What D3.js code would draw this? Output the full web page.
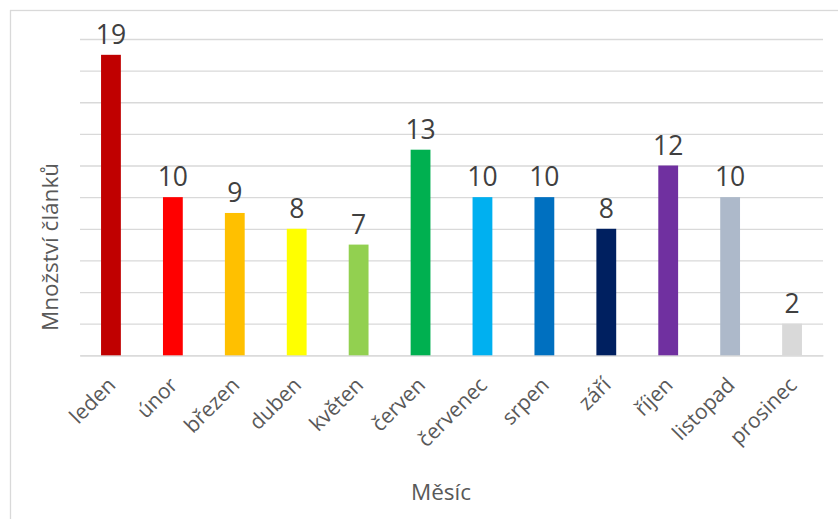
<!DOCTYPE html>
<html>
<head>
<meta charset="utf-8">
<script src="https://cdn.jsdelivr.net/npm/d3@7"></script>
<style>
  html, body { margin: 0; padding: 0; background: #fff; }
  svg { display: block; }
  text { font-family: "Open Sans", sans-serif; }
</style>
</head>
<body>
<svg id="chart" width="838" height="519"></svg>
<script>
const months = ["leden", "únor", "březen", "duben", "květen", "červen", "červenec", "srpen", "září", "říjen", "listopad", "prosinec"];
const counts = [19, 10, 9, 8, 7, 13, 10, 10, 8, 12, 10, 2];
const barColors = ["#C00000", "#FF0000", "#FFC000", "#FFFF00", "#92D050", "#00B050", "#00B0F0", "#0070C0", "#002060", "#7030A0", "#ADB9CA", "#D9D9D9"];
const yTicks = [0, 2, 4, 6, 8, 10, 12, 14, 16, 18, 20];
const xTitle = "Měsíc";
const yTitle = "Množství článků";

const svg = d3.select("#chart");
const W = 838, H = 519;
const plot = { left: 80, right: 823, top: 39, bottom: 355.3 };

// outer border (extends beyond the window like the reference)
svg.append("rect")
  .attr("x", 10.5).attr("y", 10.5)
  .attr("width", W + 20).attr("height", H + 20)
  .attr("fill", "none").attr("stroke", "#D9D9D9").attr("stroke-width", 1.3);

const x = d3.scaleBand().domain(months).range([plot.left, plot.right]).paddingInner(0.68).paddingOuter(0.34);
const y = d3.scaleLinear().domain([0, 20]).range([plot.bottom, plot.top]);

// gridlines
const grid = svg.append("g")
  .attr("transform", `translate(${plot.left},0)`)
  .call(d3.axisLeft(y).tickValues(yTicks).tickSize(-(plot.right - plot.left)).tickFormat(""));
grid.select(".domain").remove();
grid.selectAll(".tick line").attr("stroke", "#D9D9D9").attr("stroke-width", 1.3);

// x axis
const xAxis = svg.append("g")
  .attr("transform", `translate(0,${plot.bottom})`)
  .call(d3.axisBottom(x).tickSize(0));
xAxis.attr("font-size", "21px").attr("font-family", null);
xAxis.select(".domain").attr("stroke", "#D9D9D9").attr("stroke-width", 1.3);
xAxis.selectAll(".tick text")
  .attr("fill", "#595959")
  .style("font-size", "21px")
  .attr("text-anchor", "end")
  .attr("y", 0)
  .attr("dy", "0")
  .attr("transform", "translate(6,31) rotate(-45)");

// bars
svg.append("g").selectAll("rect")
  .data(months)
  .join("rect")
  .attr("x", d => x(d))
  .attr("width", x.bandwidth())
  .attr("y", (d, i) => y(counts[i]))
  .attr("height", (d, i) => y(0) - y(counts[i]))
  .attr("fill", (d, i) => barColors[i]);

// value labels
svg.append("g").selectAll("text")
  .data(months)
  .join("text")
  .attr("x", d => x(d) + x.bandwidth() / 2)
  .attr("y", (d, i) => y(counts[i]) - 11)
  .attr("text-anchor", "middle")
  .attr("font-size", "26.5px")
  .attr("fill", "#404040")
  .text((d, i) => counts[i]);

// axis titles
svg.append("text")
  .attr("x", 441).attr("y", 499.5)
  .attr("text-anchor", "middle")
  .attr("font-size", "22.5px")
  .attr("fill", "#595959")
  .text(xTitle);

svg.append("text")
  .attr("transform", "translate(58,247) rotate(-90)")
  .attr("text-anchor", "middle")
  .attr("font-size", "22.5px")
  .attr("fill", "#595959")
  .text(yTitle);
</script>
</body>
</html>
